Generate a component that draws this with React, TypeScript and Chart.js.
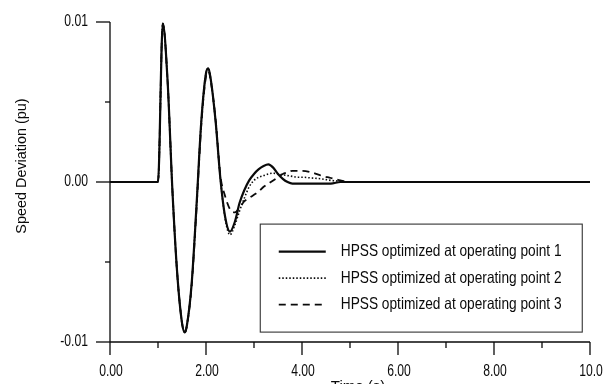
import { useEffect, useRef } from 'react';
import { Chart, registerables } from 'chart.js';

Chart.register(...registerables);

// Time axis samples (s) shared by the three responses
const times = [
  0, 1.0, 1.1, 1.2, 1.3, 1.4, 1.5, 1.56, 1.6, 1.7, 1.8, 1.9, 2.0, 2.05, 2.1, 2.2, 2.3, 2.4,
  2.5, 2.6, 2.7, 2.8, 2.9, 3.0, 3.1, 3.2, 3.3, 3.4, 3.5, 3.6, 3.7, 3.8, 3.9, 4.0, 4.2, 4.4,
  4.6, 4.8, 5.0, 6.0, 8.0, 10.0,
];

// Speed deviation (pu), HPSS tuned at operating point 1
const hpss1 = [
  0, 0, 0.0099, 0.0063, -0.0005, -0.0057, -0.0088, -0.0094, -0.009, -0.0064, -0.0016, 0.0037,
  0.0068, 0.0071, 0.0064, 0.0038, 0.0002, -0.0022,
  -0.0031, -0.0025, -0.0013, -0.0005, 0.0001, 0.0005, 0.0008, 0.001, 0.0011, 0.0009, 0.0005,
  0.0002, 0.0, -0.0001, -0.0001, -0.0001, -0.0001, -0.0001, -0.0001, 0, 0, 0, 0, 0,
];

// Speed deviation (pu), HPSS tuned at operating point 2
const hpss2 = [
  0, 0, 0.0099, 0.0063, -0.0005, -0.0057, -0.0088, -0.0094, -0.009, -0.0064, -0.0016, 0.0037,
  0.0068, 0.0071, 0.0064, 0.0038, 0.0002, -0.0023,
  -0.0033, -0.0027, -0.0018, -0.001, -0.0003, 0.0001, 0.0003, 0.0004, 0.0005, 0.00055, 0.0005,
  0.00045, 0.0004, 0.00035, 0.0003, 0.0003, 0.00025, 0.0002, 0.0001, 0.00005, 0, 0, 0, 0,
];

// Speed deviation (pu), HPSS tuned at operating point 3
const hpss3 = [
  0, 0, 0.0099, 0.0063, -0.0005, -0.0057, -0.0088, -0.0094, -0.009, -0.0065, -0.0018, 0.0035,
  0.0066, 0.0069, 0.0063, 0.0039, 0.0004, -0.0009,
  -0.0017, -0.0019, -0.0016, -0.0012, -0.001, -0.0008, -0.0006, -0.0003, -0.0001, 0.0001,
  0.0003, 0.0005, 0.0006, 0.0007, 0.0007, 0.0007, 0.0006, 0.0004, 0.00025, 0.0001, 0, 0, 0, 0,
];

const seriesLabels = [
  'HPSS optimized at operating point 1',
  'HPSS optimized at operating point 2',
  'HPSS optimized at operating point 3',
];

const xTickValues = [0, 1, 2, 3, 4, 5, 6, 7, 8, 9, 10];
const xTickLabels = ['0.00', '', '2.00', '', '4.00', '', '6.00', '', '8.00', '', '10.0'];
const yTickValues = [-0.01, -0.005, 0, 0.005, 0.01];
const yTickLabels = ['-0.01', '', '0.00', '', '0.01'];
const xTitle = 'Time (s)';
const yTitle = 'Speed Deviation (pu)';

const INK = '#0a0a0a';
const FONT = '"Liberation Sans", Arial, sans-serif';

function drawText(
  ctx: CanvasRenderingContext2D,
  text: string,
  x: number,
  y: number,
  align: CanvasTextAlign,
  sx: number,
) {
  ctx.save();
  ctx.translate(x, y);
  ctx.scale(sx, 1);
  ctx.textAlign = align;
  ctx.fillText(text, 0, 0);
  ctx.restore();
}

// Axes, tick marks, titles and the boxed legend
const axesPlugin = {
  id: 'paperAxes',
  afterDraw(chart: any) {
    const ctx: CanvasRenderingContext2D = chart.ctx;
    const xs = chart.scales.x;
    const ys = chart.scales.y;
    const x0 = xs.getPixelForValue(0);
    const x1 = xs.getPixelForValue(10);
    const yBot = ys.getPixelForValue(-0.01);
    const yTop = ys.getPixelForValue(0.01);

    ctx.save();
    ctx.strokeStyle = INK;
    ctx.fillStyle = INK;
    ctx.lineWidth = 1.3;
    ctx.setLineDash([]);

    // axis lines
    ctx.beginPath();
    ctx.moveTo(x0, yBot);
    ctx.lineTo(x1, yBot);
    ctx.moveTo(x0, yTop);
    ctx.lineTo(x0, yBot);
    ctx.stroke();

    // x ticks (downwards) and labels
    ctx.font = `16px ${FONT}`;
    ctx.textBaseline = 'middle';
    xTickValues.forEach((v, i) => {
      const px = xs.getPixelForValue(v);
      const major = xTickLabels[i] !== '';
      ctx.beginPath();
      ctx.moveTo(px, yBot);
      ctx.lineTo(px, yBot + (major ? 13 : 6));
      ctx.stroke();
      if (major) drawText(ctx, xTickLabels[i], px + 1, yBot + 30, 'center', 0.76);
    });

    // y ticks (leftwards) and labels
    yTickValues.forEach((v, i) => {
      const py = ys.getPixelForValue(v);
      const major = yTickLabels[i] !== '';
      ctx.beginPath();
      ctx.moveTo(x0, py);
      ctx.lineTo(x0 - (major ? 14 : 5), py);
      ctx.stroke();
      if (major) drawText(ctx, yTickLabels[i], x0 - 22, py, 'right', 0.76);
    });

    // axis titles
    ctx.font = `15px ${FONT}`;
    ctx.textBaseline = 'top';
    drawText(ctx, xTitle, (x0 + x1) / 2 + 8, yBot + 37, 'center', 1);
    ctx.save();
    ctx.translate(22, ys.getPixelForValue(0.001));
    ctx.rotate(-Math.PI / 2);
    ctx.textAlign = 'center';
    ctx.textBaseline = 'middle';
    drawText(ctx, yTitle, 0, 0, 'center', 0.96);
    ctx.restore();

    // legend box
    const bx = xs.getPixelForValue(3.12);
    const bw = 322;
    const by = ys.getPixelForValue(-0.0026);
    const bh = 108;
    ctx.fillStyle = '#ffffff';
    ctx.fillRect(bx, by, bw, bh);
    ctx.lineWidth = 1.1;
    ctx.strokeStyle = '#333';
    ctx.strokeRect(bx + 0.5, by + 0.5, bw, bh);

    ctx.font = `16.5px ${FONT}`;
    ctx.textBaseline = 'middle';
    ctx.fillStyle = INK;
    chart.data.datasets.forEach((ds: any, i: number) => {
      const ly = by + 28 + i * 26.5;
      ctx.save();
      ctx.strokeStyle = INK;
      ctx.lineWidth = ds.borderWidth;
      ctx.setLineDash(ds.borderDash || []);
      ctx.beginPath();
      ctx.moveTo(bx + 19, ly);
      ctx.lineTo(bx + 66, ly);
      ctx.stroke();
      ctx.restore();
      drawText(ctx, ds.label, bx + 81, ly, 'left', 0.83);
    });

    ctx.restore();
  },
};

function series(values: number[]) {
  return times.map((t, i) => ({ x: t, y: values[i] }));
}

export default function App() {
  const canvasRef = useRef<HTMLCanvasElement | null>(null);

  useEffect(() => {
    const canvas = canvasRef.current;
    if (!canvas) return;
    const common = {
      borderColor: INK,
      pointRadius: 0,
      fill: false,
      cubicInterpolationMode: 'monotone' as const,
    };
    const chart = new Chart(canvas, {
      type: 'line',
      data: {
        datasets: [
          { ...common, label: seriesLabels[0], data: series(hpss1), borderWidth: 2.2, borderDash: [] },
          { ...common, label: seriesLabels[1], data: series(hpss2), borderWidth: 1.6, borderDash: [1.5, 2] },
          { ...common, label: seriesLabels[2], data: series(hpss3), borderWidth: 1.8, borderDash: [7, 5] },
        ],
      },
      options: {
        animation: false,
        responsive: false,
        maintainAspectRatio: false,
        layout: { padding: { left: 110, right: 18, top: 22, bottom: 42 } },
        plugins: { legend: { display: false }, tooltip: { enabled: false } },
        scales: {
          x: { type: 'linear', min: 0, max: 10, display: false },
          y: { type: 'linear', min: -0.01, max: 0.01, display: false },
        },
      },
      plugins: [axesPlugin],
    });
    return () => chart.destroy();
  }, []);

  return (
    <div style={{ position: 'fixed', left: 0, top: 0, width: 608, height: 384, overflow: 'hidden', background: '#fff' }}>
      <canvas ref={canvasRef} width={608} height={384} style={{ display: 'block' }} />
    </div>
  );
}
